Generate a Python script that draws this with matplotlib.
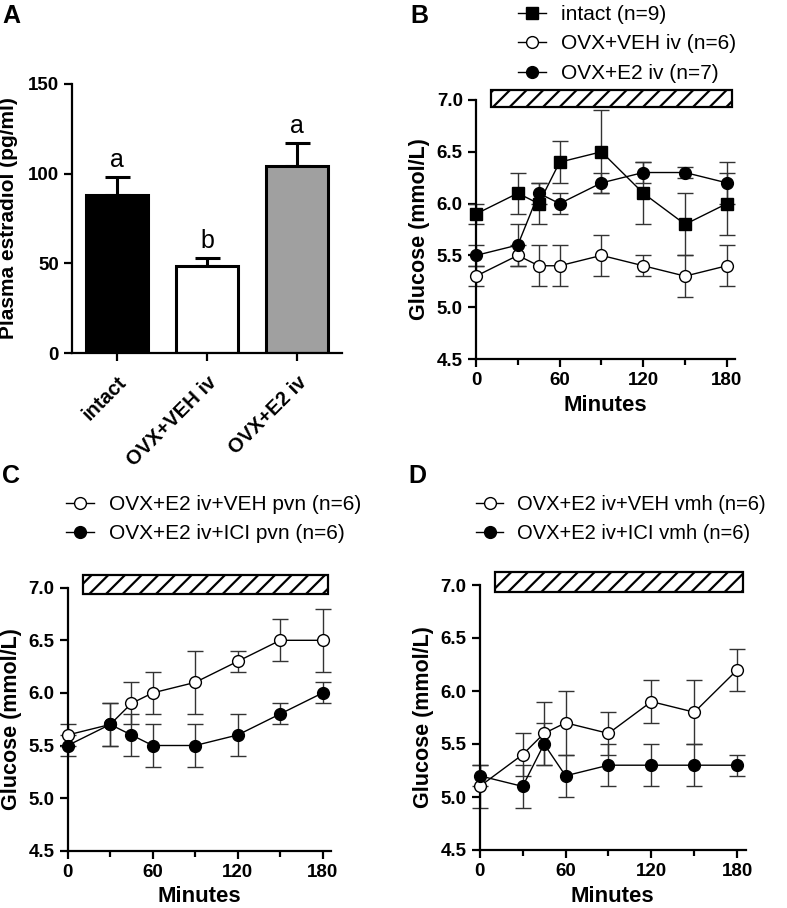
import numpy as np
import matplotlib.pyplot as plt
from matplotlib.patches import Rectangle

plt.rcParams['font.family'] = ['Liberation Sans', 'DejaVu Sans']
plt.rcParams['hatch.linewidth'] = 1.6

# ---------------- data ----------------
groups_a = ["intact", "OVX+VEH iv", "OVX+E2 iv"]
e2_mean = [88, 48.5, 104]
e2_sem = [10, 4.5, 13]
e2_letters = ["a", "b", "a"]
bar_colors = ["black", "white", "#a0a0a0"]

minutes = [0, 30, 45, 60, 90, 120, 150, 180]

intact = [5.9, 6.1, 6.0, 6.4, 6.5, 6.1, 5.8, 6.0]
intact_err = [0.1, 0.2, 0.2, 0.2, 0.4, 0.3, 0.3, 0.3]
veh_iv = [5.3, 5.5, 5.4, 5.4, 5.5, 5.4, 5.3, 5.4]
veh_iv_err = [0.1, 0.1, 0.2, 0.2, 0.2, 0.1, 0.2, 0.2]
e2_iv = [5.5, 5.6, 6.1, 6.0, 6.2, 6.3, 6.3, 6.2]
e2_iv_err = [0.1, 0.2, 0.1, 0.1, 0.1, 0.1, 0.05, 0.2]

veh_pvn = [5.6, 5.7, 5.9, 6.0, 6.1, 6.3, 6.5, 6.5]
veh_pvn_err = [0.1, 0.2, 0.2, 0.2, 0.3, 0.1, 0.2, 0.3]
ici_pvn = [5.5, 5.7, 5.6, 5.5, 5.5, 5.6, 5.8, 6.0]
ici_pvn_err = [0.1, 0.2, 0.2, 0.2, 0.2, 0.2, 0.1, 0.1]

veh_vmh = [5.1, 5.4, 5.6, 5.7, 5.6, 5.9, 5.8, 6.2]
veh_vmh_err = [0.2, 0.2, 0.3, 0.3, 0.2, 0.2, 0.3, 0.2]
ici_vmh = [5.2, 5.1, 5.5, 5.2, 5.3, 5.3, 5.3, 5.3]
ici_vmh_err = [0.1, 0.2, 0.2, 0.2, 0.2, 0.2, 0.2, 0.1]

infusion = (11, 184)  # hatched bar, minutes

W, H = 787, 908
fig = plt.figure(figsize=(W / 100, H / 100), dpi=100)


def box(l, t, r, b):
    return [l / W, 1 - b / H, (r - l) / W, (b - t) / H]


def style_axes(ax, size=13.5):
    for s in ["top", "right"]:
        ax.spines[s].set_visible(False)
    for s in ["left", "bottom"]:
        ax.spines[s].set_linewidth(1.6)
    ax.tick_params(width=1.6, length=6, labelsize=size)
    for lab in ax.get_xticklabels() + ax.get_yticklabels():
        lab.set_fontweight("bold")


def glucose_panel(ax, series, legend_xy, hatch_y, legsize=15):
    for vals, errs, mk, fc, lab in series:
        ax.errorbar(minutes, vals, yerr=errs, fmt="none", ecolor="#333333",
                    elinewidth=1.0, capsize=6, capthick=1.0, clip_on=False,
                    zorder=2)
        ax.plot(minutes, vals, color="black", lw=1.0, marker=mk, ms=8.5,
                mfc=fc, mec="black", mew=1.0, clip_on=False, zorder=3,
                label=lab)
    ax.set_xlim(0, 186)
    ax.set_ylim(4.5, 7.0)
    ax.set_xticks([0, 60, 120, 180])
    ax.set_xticks([30, 90, 150], minor=True)
    ax.set_yticks([4.5, 5.0, 5.5, 6.0, 6.5, 7.0])
    ax.set_yticklabels(["4.5", "5.0", "5.5", "6.0", "6.5", "7.0"])
    ax.set_xlabel("Minutes", fontsize=16, fontweight="bold", labelpad=4)
    ax.set_ylabel("Glucose (mmol/L)", fontsize=15.5, fontweight="bold",
                  labelpad=5)
    style_axes(ax)
    ax.tick_params(axis="x", which="minor", length=4, width=1.6)
    ax.add_patch(Rectangle((infusion[0], hatch_y[0]),
                           infusion[1] - infusion[0], hatch_y[1] - hatch_y[0],
                           facecolor="white", edgecolor="black", lw=1.6,
                           hatch="//", clip_on=False, zorder=4))
    ax.legend(loc="upper left", bbox_to_anchor=legend_xy,
              bbox_transform=fig.transFigure, frameon=False,
              fontsize=legsize, handlelength=1.35, handletextpad=0.7,
              labelspacing=0.5, borderaxespad=0, borderpad=0)


# ---------------- Panel A ----------------
axA = fig.add_axes(box(72, 84, 342, 353))
xa = np.arange(len(groups_a))
axA.bar(xa, e2_mean, width=0.68, color=bar_colors, edgecolor="black",
        linewidth=2.2, zorder=2)
axA.errorbar(xa, e2_mean, yerr=[np.zeros(3), e2_sem], fmt="none",
             ecolor="black", elinewidth=2.2, capsize=9, capthick=2.2,
             zorder=1)
for x, m, s, t in zip(xa, e2_mean, e2_sem, e2_letters):
    axA.text(x, m + s + 3, t, ha="center", va="bottom", fontsize=18)
axA.set_xlim(-0.5, 2.5)
axA.set_ylim(0, 150)
axA.set_yticks([0, 50, 100, 150])
axA.set_xticks(xa)
axA.set_xticklabels(groups_a, rotation=45, ha="right",
                    rotation_mode="anchor")
axA.set_ylabel("Plasma estradiol (pg/ml)", fontsize=15, fontweight="bold")
axA.yaxis.set_label_coords(-0.2, 0.5)
style_axes(axA)
axA.tick_params(axis="x", pad=8, labelsize=14.5)

# ---------------- Panel B ----------------
axB = fig.add_axes(box(476, 100, 476 + 186 * 1.394, 359))
glucose_panel(axB, [
    (intact, intact_err, "s", "black", "intact (n=9)"),
    (veh_iv, veh_iv_err, "o", "white", "OVX+VEH iv (n=6)"),
    (e2_iv, e2_iv_err, "o", "black", "OVX+E2 iv (n=7)"),
], (518 / W, 1 - 5 / H), (6.93, 7.10))

# ---------------- Panel C ----------------
axC = fig.add_axes(box(67.7, 587.7, 67.7 + 186 * 1.4167, 850.7))
glucose_panel(axC, [
    (veh_pvn, veh_pvn_err, "o", "white", "OVX+E2 iv+VEH pvn (n=6)"),
    (ici_pvn, ici_pvn_err, "o", "black", "OVX+E2 iv+ICI pvn (n=6)"),
], (66 / W, 1 - 495 / H), (6.94, 7.12))

# ---------------- Panel D ----------------
axD = fig.add_axes(box(479.7, 585, 479.7 + 186 * 1.431, 850))
glucose_panel(axD, [
    (veh_vmh, veh_vmh_err, "o", "white", "OVX+E2 iv+VEH vmh (n=6)"),
    (ici_vmh, ici_vmh_err, "o", "black", "OVX+E2 iv+ICI vmh (n=6)"),
], (476 / W, 1 - 495 / H), (6.93, 7.12), legsize=14.5)

# panel letters
for lab, x, y in [("A", 2, 4), ("B", 410, 4), ("C", 2, 464), ("D", 408, 464)]:
    fig.text(x / W, 1 - y / H, lab, fontsize=18, fontweight="bold",
             ha="left", va="top")

fig.savefig("out.png", dpi=100)
